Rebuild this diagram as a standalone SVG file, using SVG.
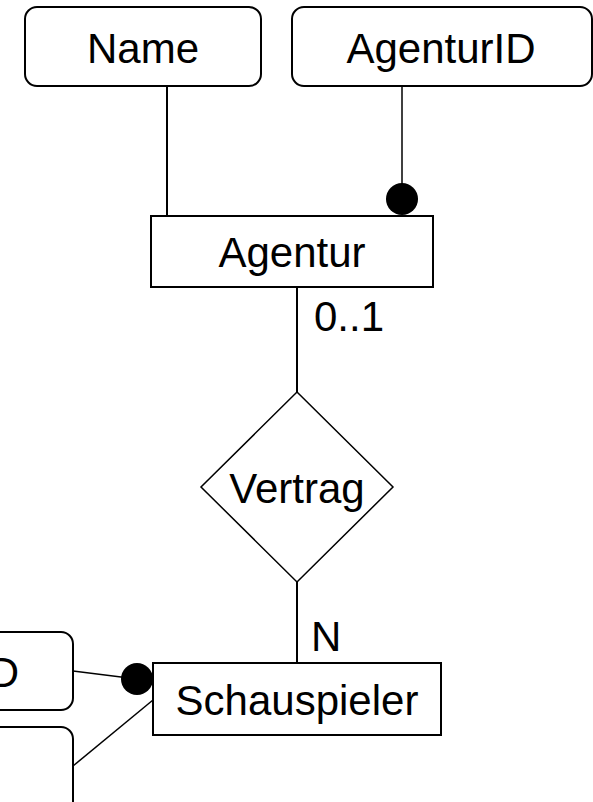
<svg xmlns="http://www.w3.org/2000/svg" width="593" height="802" viewBox="0 0 593 802">
<style>
  .box { fill: #ffffff; stroke: #000000; stroke-width: 2; }
  .rel { fill: #ffffff; stroke: #000000; stroke-width: 1.5; }
  .lbl { font-family: "Liberation Sans", Arial, sans-serif; font-size: 42px; fill: #000000; }
  .mid { text-anchor: middle; }
  .conn { stroke: #000000; stroke-width: 2; fill: none; }
  .thin { stroke-width: 1.5; }
  .dot { fill: #000000; }
</style>
<rect width="593" height="802" fill="#ffffff"/>
<g id="connectors">
  <line class="conn" x1="167" y1="86" x2="167" y2="216"/>
  <line class="conn thin" x1="402" y1="86" x2="402" y2="199"/>
  <circle class="dot" cx="402" cy="199" r="16"/>
  <line class="conn" x1="297" y1="287" x2="297" y2="392"/>
  <line class="conn" x1="297" y1="582" x2="297" y2="663"/>
  <line class="conn thin" x1="73" y1="671" x2="137" y2="679"/>
  <circle class="dot" cx="137" cy="679" r="16"/>
  <line class="conn thin" x1="73" y1="766" x2="153" y2="700"/>
  <text class="lbl" x="314" y="331">0..1</text>
  <text class="lbl" x="311" y="651">N</text>
</g>
<g id="attr-name">
  <rect class="box" x="25" y="7" width="236" height="79" rx="12" ry="12"/>
  <text class="lbl mid" x="143" y="63">Name</text>
</g>
<g id="attr-agenturid">
  <rect class="box" x="292" y="7" width="300" height="79" rx="12" ry="12"/>
  <text class="lbl mid" x="441" y="63">AgenturID</text>
</g>
<g id="entity-agentur">
  <rect class="box" x="151" y="216" width="282" height="71"/>
  <text class="lbl mid" x="292" y="267">Agentur</text>
</g>
<g id="rel-vertrag">
  <polygon class="rel" points="297,392 393,487 297,582 201,487"/>
  <text class="lbl mid" x="297" y="503">Vertrag</text>
</g>
<g id="entity-schauspieler">
  <rect class="box" x="153" y="663" width="288" height="72"/>
  <text class="lbl mid" x="297" y="715">Schauspieler</text>
</g>
<g id="attr-id">
  <rect class="box" x="-240" y="632" width="313" height="78" rx="12" ry="12"/>
  <text class="lbl" x="19" y="687" text-anchor="end">D</text>
</g>
<g id="attr-other">
  <rect class="box" x="-240" y="727" width="313" height="120" rx="12" ry="12"/>
</g>
</svg>
